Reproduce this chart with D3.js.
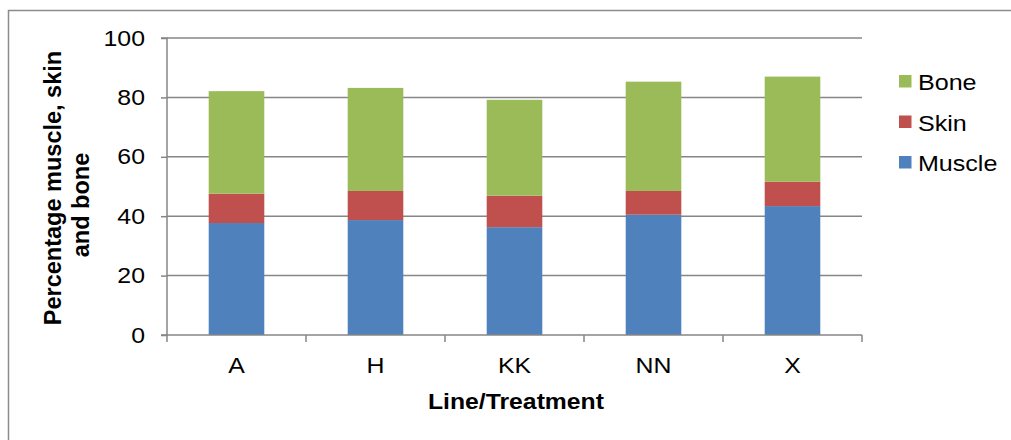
<!DOCTYPE html>
<html><head><meta charset="utf-8">
<script src="https://cdn.jsdelivr.net/npm/d3@7"></script>
<style>body{margin:0;background:#fff}svg{display:block}text{font-family:"Liberation Sans",Arial,sans-serif;fill:#000}</style>
</head><body>
<svg id="c" width="1011" height="440"></svg>
<script>
const categories = ["A", "H", "KK", "NN", "X"];
const muscle = [37.7, 38.7, 36.3, 40.5, 43.4];
const skin = [9.9, 9.8, 10.6, 8.0, 8.2];
const bone = [34.5, 34.7, 32.3, 36.8, 35.4];
const seriesNames = ["Muscle", "Skin", "Bone"];
const seriesColors = ["#4F81BD", "#C0504D", "#9BBB59"];
const yTicks = [0, 20, 40, 60, 80, 100];

const svg = d3.select("#c");
const FONT = "Liberation Sans, Arial, sans-serif";
// horizontal stretch of text, keeping its anchor point fixed
function stretch(sel, k) {
  sel.each(function () {
    const t = d3.select(this);
    const x0 = +(t.attr("x") || 0);
    t.attr("transform", `translate(${x0 * (1 - k)},0) scale(${k},1)`);
  });
}

// outer chart border
svg.append("rect").attr("x", 8.5).attr("y", 10.5).attr("width", 1020).attr("height", 450)
  .attr("fill", "none").attr("stroke", "#8c8c8c").attr("stroke-width", 1.5);

const L = 167, R = 862, T = 38, B = 335;
const x = d3.scaleBand().domain(categories).range([L, R]).padding(0);
const y = d3.scaleLinear().domain([0, 100]).range([B, T]);

// gridlines
svg.append("g").selectAll("line").data(yTicks.slice(1)).join("line")
  .attr("x1", L).attr("x2", R).attr("y1", d => y(d)).attr("y2", d => y(d))
  .attr("stroke", "#868686").attr("stroke-width", 1.5);

// stacked bars
const rows = categories.map((c, i) => ({cat: c, Muscle: muscle[i], Skin: skin[i], Bone: bone[i]}));
const stack = d3.stack().keys(seriesNames)(rows);
const bw = x.bandwidth() * 0.4;
svg.append("g").selectAll("g").data(stack).join("g")
  .attr("fill", (d, i) => seriesColors[i])
  .selectAll("rect").data(d => d).join("rect")
  .attr("x", d => x(d.data.cat) + (x.bandwidth() - bw) / 2)
  .attr("width", bw)
  .attr("y", d => y(d[1]))
  .attr("height", d => y(d[0]) - y(d[1]));

// y axis
const yAxis = d3.axisLeft(y).tickValues(yTicks).tickSize(6).tickPadding(16).tickFormat(d3.format("d"));
const gy = svg.append("g").attr("transform", `translate(${L},0)`).call(yAxis);
gy.select(".domain").attr("stroke", "#868686").attr("stroke-width", 1.5).attr("d", `M-6,${T}H0V${B}H-6`);
gy.selectAll(".tick line").attr("stroke", "#868686").attr("stroke-width", 1.5);
gy.selectAll(".tick text").attr("font-size", 22).attr("font-family", FONT).attr("fill", "#000")
  .call(stretch, 1.13);

// x axis
const xAxis = d3.axisBottom(x).tickSize(0).tickPadding(22);
const gx = svg.append("g").attr("transform", `translate(0,${B})`).call(xAxis);
gx.select(".domain").attr("stroke", "#868686").attr("stroke-width", 1.5).attr("d", `M${L},0H${R}`);
gx.selectAll(".tick text").attr("font-size", 22).attr("font-family", FONT).attr("fill", "#000")
  .call(stretch, 1.13);
// category boundary ticks
const bounds = categories.map(c => x(c)).concat([R]);
svg.append("g").selectAll("line").data(bounds).join("line")
  .attr("x1", d => d).attr("x2", d => d).attr("y1", B).attr("y2", B + 7)
  .attr("stroke", "#868686").attr("stroke-width", 1.5);

// axis titles
svg.append("text").attr("x", 516).attr("y", 409).attr("text-anchor", "middle")
  .attr("font-size", 22.5).attr("font-weight", "bold").text("Line/Treatment")
  .call(stretch, 1.1);
const yt = svg.append("g").attr("transform", "rotate(-90)");
yt.append("text").attr("x", -188).attr("y", 61).attr("text-anchor", "middle")
  .attr("font-size", 23.5).attr("font-weight", "bold").text("Percentage muscle, skin");
yt.append("text").attr("x", -205).attr("y", 89).attr("text-anchor", "middle")
  .attr("font-size", 23.5).attr("font-weight", "bold").text("and bone");

// legend
const legendOrder = [2, 1, 0];
const lg = svg.append("g").selectAll("g").data(legendOrder).join("g")
  .attr("transform", (d, i) => `translate(899,${75 + i * 40.5})`);
lg.append("rect").attr("width", 12.5).attr("height", 12.5).attr("fill", d => seriesColors[d]);
lg.append("text").attr("x", 19).attr("y", 15).attr("font-size", 22).text(d => seriesNames[d])
  .call(stretch, 1.14);
</script>
</body></html>
